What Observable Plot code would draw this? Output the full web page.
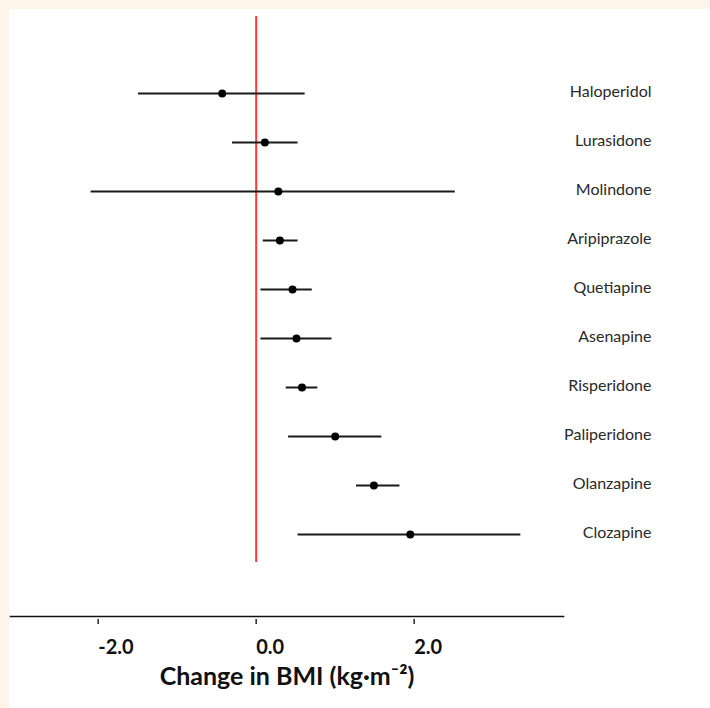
<!DOCTYPE html>
<html>
<head>
<meta charset="utf-8">
<script src="https://cdn.jsdelivr.net/npm/d3@7"></script>
<script src="https://cdn.jsdelivr.net/npm/@observablehq/plot@0.6"></script>
<style>
  html, body { margin: 0; padding: 0; background: #fdf5ea; width: 710px; height: 708px; overflow: hidden; }
  #panel { position: absolute; left: 9px; top: 9px; width: 701px; height: 699px; background: #ffffff; }
  svg { display: block; }
</style>
</head>
<body>
<div id="panel"></div>
<script>
const drugs = ["Haloperidol","Lurasidone","Molindone","Aripiprazole","Quetiapine","Asenapine","Risperidone","Paliperidone","Olanzapine","Clozapine"];
const estimate = [-0.43, 0.11, 0.28, 0.30, 0.46, 0.51, 0.58, 1.00, 1.49, 1.95];
const lower    = [-1.49, -0.30, -2.09, 0.09, 0.06, 0.06, 0.38, 0.41, 1.27, 0.53];
const upper    = [0.62, 0.53, 2.52, 0.53, 0.71, 0.96, 0.78, 1.59, 1.82, 3.35];
const tickValues = [-2, 0, 2];
const tickLabels = ["-2.0", "0.0", "2.0"];
const xTitle = "Change in BMI (kg·m⁻²)";

const rows = drugs.map((d, i) => ({drug: d, est: estimate[i], lo: lower[i], hi: upper[i]}));
const ticks = tickValues.map((v, i) => ({v, label: tickLabels[i]}));

const chart = Plot.plot({
  width: 701,
  height: 699,
  marginLeft: 1,
  marginRight: 147,
  marginTop: 7,
  marginBottom: 84,
  style: {background: "#ffffff", fontFamily: "Lato, 'Open Sans', sans-serif", color: "#222222"},
  x: {domain: [-3.11, 3.89], axis: null},
  y: {type: "point", domain: drugs, range: [80, 529], padding: 0, axis: null},
  marks: [
    Plot.frame({anchor: "bottom", insetBottom: 8, stroke: "#111111", strokeWidth: 1.6}),
    Plot.ruleX(ticks, {x: "v", insetTop: 603, stroke: "#333333", strokeWidth: 1.6}),
    Plot.text(ticks, {x: "v", text: "label", frameAnchor: "bottom", textAnchor: "start", dy: 29, fontSize: 20, fontWeight: "bold", fill: "#111111"}),
    Plot.text([xTitle], {text: d => d, frameAnchor: "bottom", dy: 60, fontSize: 25, fontWeight: "bold", fill: "#111111"}),
    Plot.ruleX([0], {stroke: "#ff3b30", strokeWidth: 2, insetBottom: 62}),
    Plot.ruleY(rows, {y: "drug", x1: "lo", x2: "hi", stroke: "#1a1a1a", strokeWidth: 2}),
    Plot.dot(rows, {y: "drug", x: "est", r: 4, fill: "#000000", stroke: "none"}),
    Plot.text(rows, {y: "drug", text: "drug", frameAnchor: "right", textAnchor: "end", dx: 88, dy: -2, fontSize: 16, fill: "#2a2a2a"})
  ]
});
document.getElementById("panel").appendChild(chart);
</script>
</body>
</html>
